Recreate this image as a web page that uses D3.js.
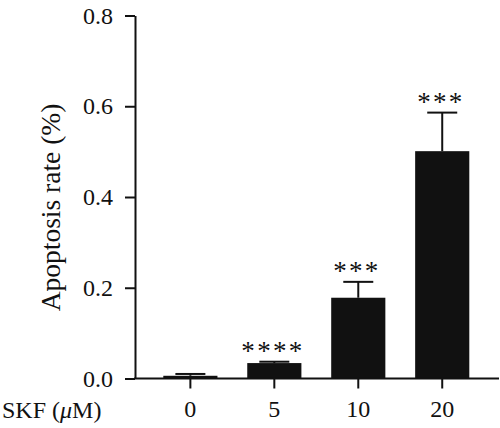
<!DOCTYPE html>
<html>
<head>
<meta charset="utf-8">
<script src="https://cdn.jsdelivr.net/npm/d3@7"></script>
</head>
<body style="margin:0;padding:0;background:#fff">
<svg id="chart" width="500" height="428" style="display:block"></svg>
<script>
const categories = ["0", "5", "10", "20"];
const values = [0.006, 0.034, 0.178, 0.501];
const errors = [0.004, 0.003, 0.035, 0.085];
const stars = ["", "****", "***", "***"];
const yTicks = [0.0, 0.2, 0.4, 0.6, 0.8];

const FONT = "Liberation Serif";
const ink = "#111";
const svg = d3.select("#chart").attr("font-family", FONT);

const y = d3.scaleLinear().domain([0, 0.8]).range([378.5, 15.5]);
const x = d3.scaleBand().domain(categories).range([163.3, 469.3])
  .paddingInner(0.355).paddingOuter(0);

// bars
svg.append("g").selectAll("rect").data(categories).join("rect")
  .attr("x", d => x(d))
  .attr("width", x.bandwidth())
  .attr("y", (d, i) => y(values[i]))
  .attr("height", (d, i) => y(0) - y(values[i]))
  .attr("fill", ink);

// error bars
const eg = svg.append("g").attr("stroke", ink).attr("stroke-width", 2);
categories.forEach((c, i) => {
  const cx = x(c) + x.bandwidth() / 2;
  const top = y(values[i] + errors[i]);
  eg.append("line").attr("x1", cx).attr("x2", cx).attr("y1", y(values[i])).attr("y2", top);
  eg.append("line").attr("x1", cx - 15).attr("x2", cx + 15).attr("y1", top).attr("y2", top);
});

// significance stars
categories.forEach((c, i) => {
  const s = stars[i];
  if (!s) return;
  const cx = x(c) + x.bandwidth() / 2 - 2.5;
  const base = y(values[i] + errors[i]) - 1.5;
  const n = s.length;
  for (let k = 0; k < n; k++) {
    svg.append("text")
      .attr("x", cx + (k - (n - 1) / 2) * 15.8)
      .attr("y", base)
      .attr("text-anchor", "middle")
      .attr("font-family", FONT)
      .attr("font-size", 27)
      .attr("fill", ink)
      .text("*");
  }
});

// y axis
const yAxis = svg.append("g").attr("transform", "translate(135,0)")
  .call(d3.axisLeft(y).tickValues(yTicks).tickFormat(d3.format(".1f")).tickSize(10).tickSizeOuter(0).tickPadding(12));
yAxis.attr("font-family", FONT).attr("font-size", 24);
yAxis.select(".domain").attr("stroke", ink).attr("stroke-width", 2);
yAxis.selectAll(".tick line").attr("stroke", ink).attr("stroke-width", 2);
yAxis.selectAll(".tick text").attr("font-size", 24).attr("font-family", FONT).attr("fill", ink);

// x axis
const xAxis = svg.append("g").attr("transform", `translate(0,${y(0)})`)
  .call(d3.axisBottom(x).tickSize(10).tickSizeOuter(0).tickPadding(11));
xAxis.attr("font-family", FONT).attr("font-size", 24);
xAxis.select(".domain").remove();
xAxis.append("line").attr("x1", 134).attr("x2", 499).attr("y1", 0).attr("y2", 0)
  .attr("stroke", ink).attr("stroke-width", 2);
xAxis.selectAll(".tick line").attr("stroke", ink).attr("stroke-width", 2);
xAxis.selectAll(".tick text").attr("font-size", 24).attr("font-family", FONT).attr("fill", ink);

// x label
const xl = svg.append("text").attr("x", 2).attr("y", 418)
  .attr("font-family", FONT).attr("font-size", 24).attr("fill", ink);
xl.append("tspan").text("SKF (");
xl.append("tspan").attr("font-style", "italic").text("μ");
xl.append("tspan").text("M)");

// y label
svg.append("text")
  .attr("transform", "translate(60,207.5) rotate(-90)")
  .attr("text-anchor", "middle")
  .attr("font-family", FONT)
  .attr("font-size", 27.5)
  .attr("fill", ink)
  .text("Apoptosis rate (%)");
</script>
</body>
</html>
